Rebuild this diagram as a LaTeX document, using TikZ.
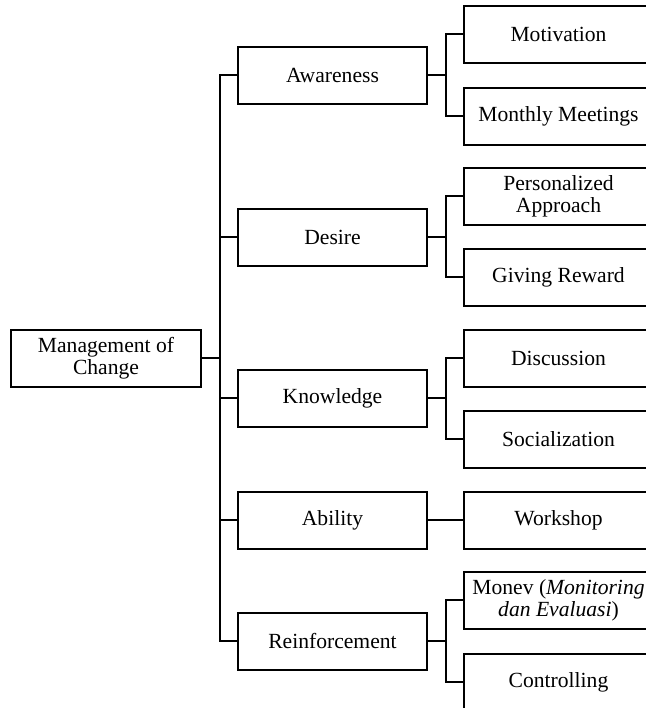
\documentclass[tikz,border=0pt]{standalone}
\usepackage{fontspec}
\setmainfont{Liberation Serif}
\usetikzlibrary{positioning}

\begin{document}
\begin{tikzpicture}[x=0.5pt, y=-0.5pt, line width=1pt, font=\fontsize{10.8}{10.9}\selectfont, box/.style={draw, line width=1pt, fill=white, align=center, minimum width=94.5pt, minimum height=28.5pt, inner sep=1pt}, subbox/.style={box, minimum width=100pt}]
\useasboundingbox[fill=white] (0,0) rectangle (646,708);
\clip (0,0) rectangle (646,708);
% root
\node[box, minimum width=95pt] (root) at (106,358) {Management of\\Change};
% first level
\node[box] (aware) at (332.5,75) {Awareness};
\node[box] (desire) at (332.5,237) {Desire};
\node[box] (know) at (332.5,398) {Knowledge};
\node[box] (abil) at (332.5,520) {Ability};
\node[box] (reinf) at (332.5,641) {Reinforcement};
% second level (right side runs off the page)
\node[subbox] (motiv) at (564,34) {Motivation\hspace*{5.5pt}};
\node[subbox] (meet) at (564,116) {Monthly Meetings\hspace*{5.5pt}};
\node[subbox] (person) at (564,196) {Personalized\hspace*{5.5pt}\\Approach\hspace*{5.5pt}};
\node[subbox] (reward) at (564,277) {Giving Reward\hspace*{5.5pt}};
\node[subbox] (discuss) at (564,358) {Discussion\hspace*{5.5pt}};
\node[subbox] (social) at (564,439) {Socialization\hspace*{5.5pt}};
\node[subbox] (work) at (564,520) {Workshop\hspace*{5.5pt}};
\node[subbox] (monev) at (564,600) {Monev (\textit{Monitoring}\hspace*{5.5pt}\\\textit{dan Evaluasi})\hspace*{5.5pt}};
\node[subbox] (control) at (564,682) {Controlling\hspace*{5.5pt}};
\foreach \n in {aware,desire,know,abil,reinf}
  \draw (root.east) -- ++(18,0) |- (\n.west);
\draw (aware.east) -- ++(18,0) |- (motiv.west);
\draw (aware.east) -- ++(18,0) |- (meet.west);
\draw (desire.east) -- ++(18,0) |- (person.west);
\draw (desire.east) -- ++(18,0) |- (reward.west);
\draw (know.east) -- ++(18,0) |- (discuss.west);
\draw (know.east) -- ++(18,0) |- (social.west);
\draw (abil.east) -- (work.west);
\draw (reinf.east) -- ++(18,0) |- (monev.west);
\draw (reinf.east) -- ++(18,0) |- (control.west);
\end{tikzpicture}
\end{document}
